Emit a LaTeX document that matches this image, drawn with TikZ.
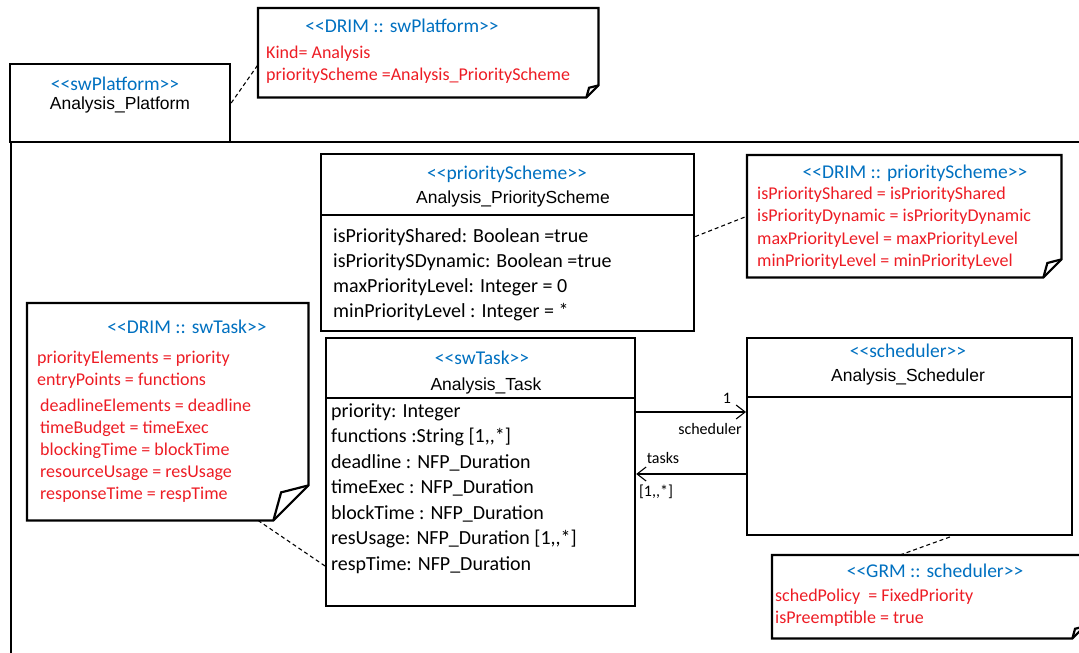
\documentclass[tikz,border=0pt]{standalone}
\usepackage{fontspec}
\setmainfont{Carlito}[Ligatures=TeXOff]
\newfontfamily\arialf{Liberation Sans}[Ligatures=TeXOff]
\usetikzlibrary{arrows.meta}
\definecolor{stblue}{RGB}{0,112,192}
\definecolor{nred}{RGB}{237,28,36}
\tikzset{
 box/.style={draw=black, line width=2.2pt, inner sep=0pt, anchor=north west},
 sepline/.style={line width=1.3pt},
 stereo/.style={text=stblue, font=\fontsize{19.5}{23}\selectfont, inner sep=0pt, yshift=-2pt},
 cname/.style={font=\arialf\fontsize{17.5}{21}\selectfont, inner sep=0pt, yshift=-2pt},
 attr/.style={anchor=west, font=\fontsize{20}{24}\selectfont, inner sep=0pt, text height=14pt, text depth=5pt, yshift=-2pt},
 nline/.style={anchor=west, text=nred, font=\fontsize{18}{22}\selectfont, inner sep=0pt, text height=13pt, text depth=4.5pt, yshift=-2pt},
 lbl/.style={font=\fontsize{16}{19}\selectfont, inner sep=0pt, yshift=-1pt},
 link/.style={dash pattern=on 4pt off 3pt, line width=1.1pt},
 assoc/.style={line width=1.1pt, -{Straight Barb[length=9pt,width=14pt,line width=1.1pt]}},
 notebox/.style={inner sep=0pt, anchor=north west},
}
\newcommand\notebody[2]{%
 \draw[line width=2.2pt, line join=miter] (#1.north west) -- (#1.north east) -- ([yshift=#2]#1.south east) -- ([xshift=-#2]#1.south east) -- (#1.south west) -- cycle;
 \draw[line width=2.2pt, line join=miter] ([yshift=#2]#1.south east) -- ([xshift=-0.78*#2, yshift=0.8*#2]#1.south east) -- ([xshift=-#2]#1.south east);}
\begin{document}
\begin{tikzpicture}[x=1pt, y=-1pt]
\useasboundingbox (0,0) rectangle (1079,653);
\clip (0,0) rectangle (1079,653);
% package frame
\node[box, minimum width=1100pt, minimum height=540pt] (pkg) at (10,141) {};
\node[box, minimum width=220pt, minimum height=78pt] (tab) at (9,63) {};
\node[stereo] (tabst) at (115,82) {<<swPlatform>>};
\node[cname] (tabnm) at (120,103) {Analysis\_Platform};

% platform note
\node[notebox, minimum width=340pt, minimum height=89pt] (pn) at (258,8) {};
\notebody{pn}{12pt}
\node[stereo] (pnt) at (402,24) {<<DRIM :: swPlatform>>};
\node[nline] (pn1) at (266,52) {Kind= Analysis};
\node[nline] (pn2) at (266,74) {priorityScheme =Analysis\_PriorityScheme};
\draw[link] ([yshift=-40pt]tab.north east) -- ([yshift=-12pt]pn.west);

% priority scheme class
\node[box, minimum width=373pt, minimum height=177pt] (ps) at (320,153) {};
\draw[sepline] (ps.west |- 0,215) -- (ps.east |- 0,215);
\node[stereo] (psst) at (507,172) {<<priorityScheme>>};
\node[cname] (psnm) at (513,197) {Analysis\_PriorityScheme};
\node[attr] (psa1) at (333,236) {isPriorityShared: Boolean =true};
\node[attr] (psa2) at (333,261) {isPrioritySDynamic: Boolean =true};
\node[attr] (psa3) at (333,286) {maxPriorityLevel: Integer = 0};
\node[attr] (psa4) at (333,311) {minPriorityLevel : Integer = *};

% priority scheme note
\node[notebox, minimum width=314pt, minimum height=122pt] (dn) at (747,155) {};
\notebody{dn}{18pt}
\node[stereo] (dnt) at (915,171) {<<DRIM :: priorityScheme>>};
\node[nline] (dn1) at (757,193) {isPriorityShared = isPriorityShared};
\node[nline] (dn2) at (757,215) {isPriorityDynamic = isPriorityDynamic};
\node[nline] (dn3) at (757,238) {maxPriorityLevel = maxPriorityLevel};
\node[nline] (dn4) at (757,260) {minPriorityLevel = minPriorityLevel};
\draw[link] ([yshift=6pt]ps.east) -- (dn.west);

% swTask note
\node[notebox, minimum width=281pt, minimum height=217pt] (tn) at (27,303) {};
\notebody{tn}{35pt}
\node[stereo] (tnt) at (187,325) {<<DRIM :: swTask>>};
\node[nline] (tn1) at (37,357) {priorityElements = priority};
\node[nline] (tn2) at (37,379) {entryPoints = functions};
\node[nline] (tn3) at (40,405) {deadlineElements = deadline};
\node[nline] (tn4) at (40,427) {timeBudget = timeExec};
\node[nline] (tn5) at (40,449) {blockingTime = blockTime};
\node[nline] (tn6) at (40,471) {resourceUsage = resUsage};
\node[nline] (tn7) at (40,493) {responseTime = respTime};

% swTask class
\node[box, minimum width=309pt, minimum height=268pt] (task) at (325,337) {};
\draw[sepline] (task.west |- 0,398) -- (task.east |- 0,398);
\node[stereo] (tkst) at (482,356) {<<swTask>>};
\node[cname] (tknm) at (486,384) {Analysis\_Task};
\node[attr] (tka1) at (331,411) {priority: Integer};
\node[attr] (tka2) at (331,436) {functions :String [1,,*]};
\node[attr] (tka3) at (331,462) {deadline : NFP\_Duration};
\node[attr] (tka4) at (331,487) {timeExec : NFP\_Duration};
\node[attr] (tka5) at (331,513) {blockTime : NFP\_Duration};
\node[attr] (tka6) at (331,538) {resUsage: NFP\_Duration [1,,*]};
\node[attr] (tka7) at (331,564) {respTime: NFP\_Duration};
\draw[link] ([xshift=231pt]tn.south west) -- ([yshift=-229pt]task.north west);

% scheduler class
\node[box, minimum width=325pt, minimum height=197pt] (sch) at (746,337) {};
\draw[sepline] (sch.west |- 0,397) -- (sch.east |- 0,397);
\node[stereo] (scst) at (908,349) {<<scheduler>>};
\node[cname] (scnm) at (908,375) {Analysis\_Scheduler};

% associations
\draw[assoc] ([yshift=-75pt]task.north east) -- ([yshift=-75pt]sch.north west);
\node[lbl] (m1) at (727,397) {1};
\node[lbl] (r1) at (710,428) {scheduler};
\draw[assoc] ([yshift=-137pt]sch.north west) -- ([yshift=-137pt]task.north east);
\node[lbl] (r2) at (663,457) {tasks};
\node[lbl] (m2) at (656,491) {[1,,*]};

% GRM note
\node[notebox, minimum width=312pt, minimum height=83pt] (gn) at (772,555) {};
\notebody{gn}{12pt}
\node[stereo] (gnt) at (935,569) {<<GRM :: scheduler>>};
\node[nline] (gn1) at (775,595) {schedPolicy\ \ = FixedPriority};
\node[nline] (gn2) at (775,617) {isPreemptible = true};
\draw[link] ([xshift=128pt]gn.north west) -- ([xshift=206pt]sch.south west);
\end{tikzpicture}
\end{document}
